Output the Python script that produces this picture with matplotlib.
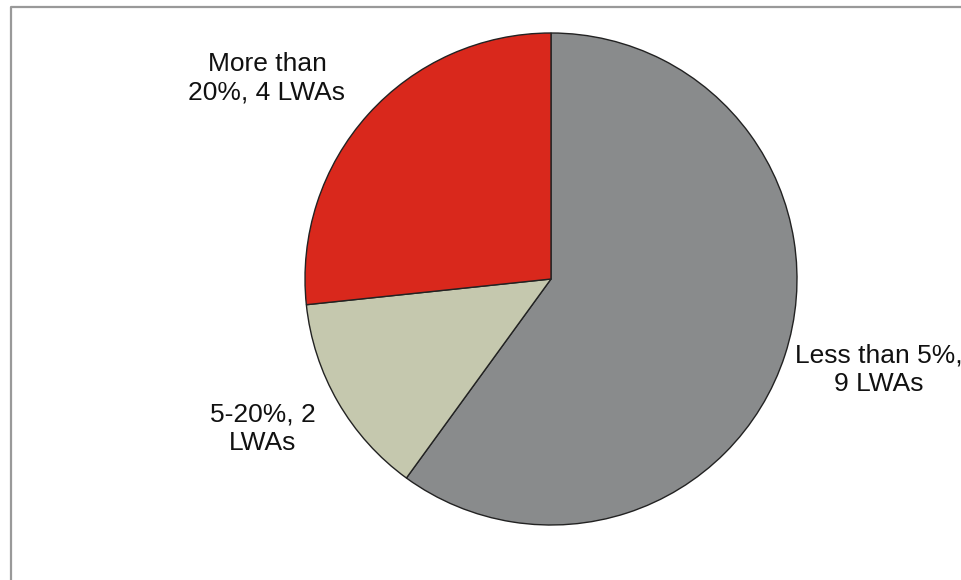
import matplotlib.pyplot as plt

# Share of LWAs by category
categorias = ['Less than 5%,\n9 LWAs', '5-20%, 2\nLWAs', 'More than\n20%, 4 LWAs']
cantidades = [9, 2, 4]
colores = ['#898b8c', '#c5c8ae', '#d9281c']

# Label anchor points (pixels, origin bottom-left)
pos_etiquetas = [(879, 210), (263, 151), (267, 502)]

plt.rcParams['font.family'] = ['Liberation Sans', 'DejaVu Sans']

fig = plt.figure(figsize=(9.62, 5.8), dpi=100)
ax = fig.add_axes([0, 0, 1, 1])
ax.set_xlim(0, 962)
ax.set_ylim(0, 580)
ax.set_aspect('equal')
ax.axis('off')

ax.pie(cantidades, colors=colores, startangle=90, counterclock=False,
       center=(551, 301), radius=246,
       wedgeprops=dict(edgecolor='#222222', linewidth=1.0))

for texto, (x, y) in zip(categorias, pos_etiquetas):
    ax.text(x, y, texto, ha='center', va='center', fontsize=19,
            color='#111111', linespacing=1.25)

# Outer frame (left and top edges)
ax.plot([11, 11, 962], [0, 573, 573], color='#999999', linewidth=1.6,
        solid_capstyle='butt')

ax.set_xlim(0, 962)
ax.set_ylim(0, 580)

fig.savefig('out.png', dpi=100)
